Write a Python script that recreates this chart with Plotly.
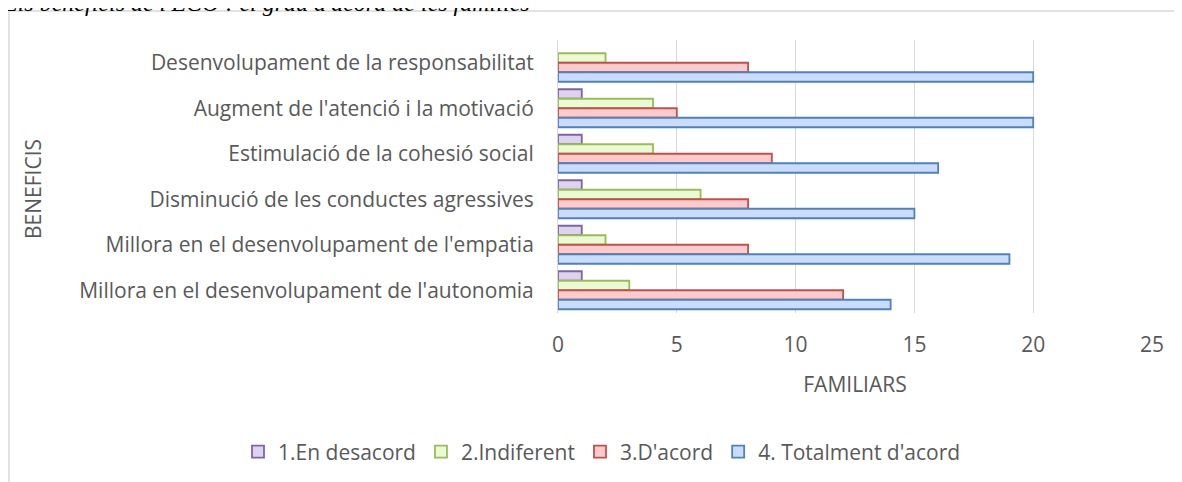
import plotly.graph_objects as go

# dades llegides del gràfic
beneficis = [
    "Desenvolupament de la responsabilitat",
    "Augment de l'atenció i la motivació",
    "Estimulació de la cohesió social",
    "Disminució de les conductes agressives",
    "Millora en el desenvolupament de l'empatia",
    "Millora en el desenvolupament de l'autonomia",
]
en_desacord = [None, 1, 1, 1, 1, 1]
indiferent = [2, 4, 4, 6, 2, 3]
d_acord = [8, 5, 9, 8, 8, 12]
totalment = [20, 20, 16, 15, 19, 14]

series = [
    ("1.En desacord", en_desacord, "#ddd3ee", "#8064a2"),
    ("2.Indiferent", indiferent, "#e9fbd2", "#9bbb59"),
    ("3.D'acord", d_acord, "#ffcaca", "#c0504d"),
    ("4. Totalment d'acord", totalment, "#cadcfc", "#4f81bd"),
]

GRAY = "#595959"
FONT = "Open Sans"
FS = 21

fig = go.Figure()
for name, vals, fill, edge in series:
    fig.add_trace(go.Bar(
        y=beneficis, x=vals, name=name, orientation="h",
        marker=dict(color=fill, line=dict(color=edge, width=1.8)),
    ))

# page has an 8px body margin, so work in page pixels and shift
OFF = 8
L, R, T, B = 558, 1152, 40, 313   # plot area in page pixels
W, H = R - L, B - T


def px_x(p):
    return (p - L) / W


def px_y(p):
    return (B - p) / H


fig.update_layout(
    width=1182, height=482,
    margin=dict(l=L - OFF, r=1182 - (R - OFF), t=T - OFF, b=482 - (B - OFF)),
    paper_bgcolor="white", plot_bgcolor="white",
    barmode="group", bargap=0.165, bargroupgap=0,
    font=dict(family=FONT, size=FS, color=GRAY),
    showlegend=True,
    # x < 0 and below the plot so plotly lets the legend use the full width
    legend=dict(orientation="h", x=px_x(238), xanchor="left",
                y=px_y(452), yanchor="middle", font=dict(size=FS, color=GRAY),
                itemwidth=30, traceorder="normal"),
)
fig.update_xaxes(
    range=[0, 25], dtick=5, showgrid=True, gridcolor="#d9d9d9", gridwidth=1,
    zeroline=False, showline=False, ticks="", ticklabelstandoff=17,
    title=dict(text="FAMILIARS", standoff=20, font=dict(size=FS, color=GRAY)),
)
fig.update_yaxes(
    autorange="reversed", showgrid=False, zeroline=False,
    showline=True, linecolor="#d9d9d9", linewidth=1, ticks="",
    ticklabelstandoff=19,
)

# axis title, placed by hand like the Excel one
fig.add_annotation(text="BENEFICIS", textangle=-90, xref="paper", yref="paper",
                   x=px_x(33), y=px_y(189), xanchor="center", yanchor="middle",
                   showarrow=False, font=dict(size=FS, color=GRAY))

# caption above the chart, clipped by the top edge as in the source
fig.add_annotation(text="<i>Els beneficis de l'ECO : el grau d'acord de les famílies</i>",
                   xref="paper", yref="paper", x=px_x(0), y=px_y(18),
                   xanchor="left", yanchor="bottom", showarrow=False,
                   font=dict(family="Liberation Serif", size=24, color="black"))

# chart frame
fig.add_shape(type="rect", xref="paper", yref="paper",
              x0=px_x(9), x1=px_x(1210), y0=px_y(520), y1=px_y(11),
              line=dict(color="#d9d9d9", width=1.5), layer="below")

fig.write_html("out.html")
